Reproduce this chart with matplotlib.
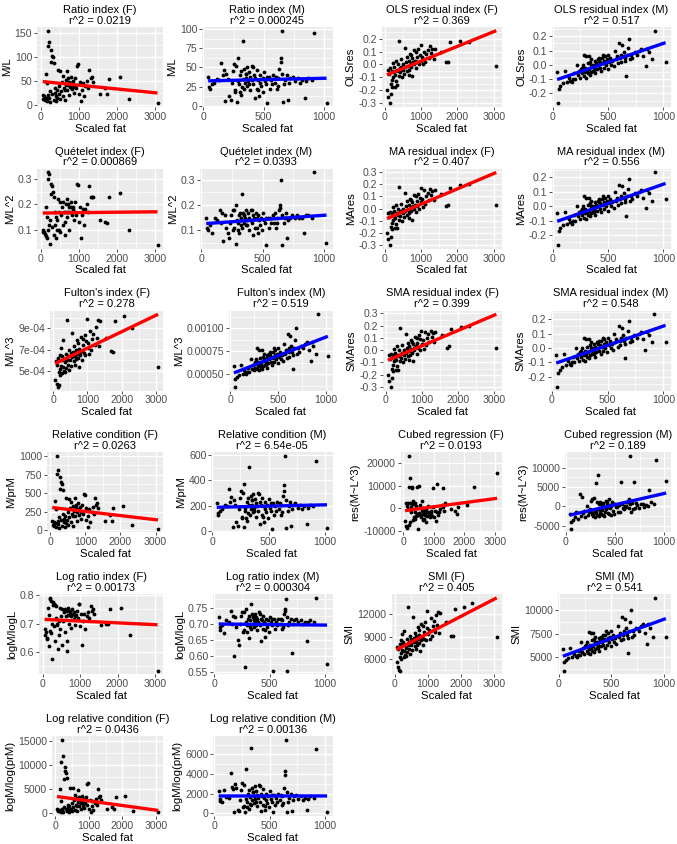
import numpy as np
import matplotlib.pyplot as plt

plt.rcParams['font.family'] = ['Liberation Sans', 'DejaVu Sans']

# Scaled fat, females and males
fat_f = [55, 75, 95, 110, 130, 145, 160, 170, 185, 195,
         205, 215, 230, 245, 255, 270, 285, 295, 310, 325,
         340, 355, 370, 385, 395, 410, 425, 440, 455, 470,
         490, 505, 520, 545, 560, 585, 600, 615, 640, 655,
         670, 690, 705, 720, 740, 755, 770, 790, 805, 830,
         850, 870, 895, 915, 940, 960, 985, 1005, 1030, 1060,
         1085, 1110, 1140, 1175, 1210, 1250, 1280, 1310, 1340, 1370,
         1550, 1690, 1745, 1800, 2080, 2320, 3070, 860, 720, 650]
fat_m = [40, 50, 55, 70, 90, 110, 130, 150, 160, 170,
         180, 190, 200, 215, 225, 235, 245, 255, 265, 270,
         280, 285, 290, 295, 300, 305, 310, 315, 320, 325,
         330, 335, 340, 345, 350, 355, 360, 365, 370, 380,
         385, 390, 400, 405, 410, 420, 425, 430, 440, 445,
         450, 460, 465, 470, 480, 490, 495, 500, 510, 520,
         530, 540, 550, 560, 570, 580, 590, 600, 610, 615,
         620, 630, 640, 650, 655, 660, 670, 680, 690, 700,
         710, 720, 740, 760, 780, 800, 820, 840, 850, 870,
         900, 920, 1020, 260, 350, 375, 415, 455, 525, 640]

# ---- female indices ----
ratio_f = [20, 12, 18, 10, 15, 65, 8, 45, 122, 155,
           20, 14, 132, 5, 28, 90, 115, 102, 22, 100,
           10, 88, 35, 25, 18, 8, 30, 15, 72, 22,
           40, 12, 70, 28, 48, 18, 60, 35, 10, 52,
           42, 70, 30, 55, 48, 20, 38, 58, 45, 32,
           50, 25, 40, 55, 35, 82, 85, 22, 48, 8,
           30, 45, 18, 40, 50, 35, 72, 55, 58, 48,
           22, 35, 22, 53, 58, 12, 3, 38, 42, 30]
ols_f = [-0.20, -0.04, -0.25, -0.07, -0.30, -0.03, -0.15, -0.23, -0.05, -0.12,
         -0.17, 0.01, -0.10, -0.06, -0.02, -0.17, -0.08, 0.03, -0.13, -0.04,
         -0.16, -0.05, 0.00, -0.09, 0.18, -0.03, -0.06, -0.02, 0.04, -0.10,
         -0.04, 0.00, -0.07, 0.13, -0.02, 0.02, -0.05, 0.06, -0.01, 0.03,
         -0.04, 0.08, 0.01, -0.02, 0.05, -0.09, 0.02, 0.00, 0.11, 0.03,
         -0.03, 0.06, 0.02, 0.12, 0.00, 0.07, 0.15, 0.03, 0.06, 0.00,
         0.10, 0.02, 0.08, 0.11, 0.05, 0.14, 0.09, 0.12, 0.04, 0.12,
         0.10, 0.02, 0.02, 0.17, 0.185, 0.175, -0.01, 0.10, 0.07, -0.08]
ma_f = [-0.20, -0.04, -0.25, -0.07, -0.30, -0.03, -0.15, -0.23, -0.04, -0.12,
        -0.17, 0.01, -0.09, -0.06, -0.02, -0.16, -0.08, 0.03, -0.13, -0.04,
        -0.16, -0.05, 0.00, -0.09, 0.18, -0.03, -0.06, -0.02, 0.04, -0.10,
        -0.04, 0.00, -0.07, 0.13, -0.02, 0.02, -0.05, 0.06, -0.01, 0.03,
        -0.04, 0.08, 0.01, -0.02, 0.05, -0.09, 0.02, 0.00, 0.11, 0.03,
        -0.03, 0.06, 0.02, 0.12, 0.00, 0.09, 0.17, 0.05, 0.08, 0.01,
        0.15, 0.04, 0.10, 0.13, 0.07, 0.16, 0.11, 0.14, 0.07, 0.15,
        0.12, 0.02, 0.03, 0.17, 0.19, 0.20, 0.03, 0.10, 0.07, -0.08]
sma_f = [-0.20, -0.04, -0.25, -0.07, -0.30, -0.03, -0.15, -0.23, -0.04, -0.12,
         -0.17, 0.01, -0.09, -0.06, -0.02, -0.16, -0.08, 0.03, -0.13, -0.04,
         -0.16, -0.05, 0.00, -0.09, 0.18, -0.03, -0.06, -0.02, 0.04, -0.10,
         -0.04, 0.00, -0.07, 0.13, -0.02, 0.02, -0.05, 0.06, -0.01, 0.03,
         -0.04, 0.08, 0.01, -0.02, 0.05, -0.09, 0.02, 0.00, 0.11, 0.03,
         -0.03, 0.06, 0.02, 0.12, 0.00, 0.09, 0.16, 0.05, 0.08, 0.01,
         0.15, 0.04, 0.10, 0.13, 0.07, 0.16, 0.11, 0.14, 0.07, 0.15,
         0.12, 0.02, 0.03, 0.17, 0.19, 0.20, 0.02, 0.10, 0.07, -0.08]
quet_f = [0.10, 0.09, 0.09, 0.085, 0.075, 0.19, 0.07, 0.15, 0.30, 0.325,
          0.10, 0.12, 0.32, 0.045, 0.14, 0.24, 0.28, 0.27, 0.11, 0.25,
          0.08, 0.23, 0.17, 0.12, 0.15, 0.07, 0.14, 0.10, 0.22, 0.10,
          0.17, 0.09, 0.21, 0.16, 0.19, 0.12, 0.21, 0.17, 0.08, 0.20,
          0.17, 0.22, 0.15, 0.20, 0.19, 0.10, 0.17, 0.21, 0.19, 0.16,
          0.19, 0.14, 0.17, 0.21, 0.16, 0.28, 0.275, 0.13, 0.19, 0.07,
          0.16, 0.18, 0.12, 0.18, 0.20, 0.17, 0.27, 0.23, 0.23, 0.23,
          0.14, 0.13, 0.125, 0.228, 0.245, 0.10, 0.04, 0.18, 0.17, 0.13]
fulton_f = [0.00042, 0.00059, 0.00038, 0.00056, 0.00035, 0.00062, 0.00049, 0.00037, 0.00065, 0.00052,
            0.00046, 0.00072, 0.00055, 0.00060, 0.00064, 0.00048, 0.00054, 0.00079, 0.00050, 0.00061,
            0.00049, 0.00058, 0.00066, 0.00053, 0.00098, 0.00060, 0.00056, 0.00064, 0.00070, 0.00051,
            0.00060, 0.00067, 0.00055, 0.00086, 0.00063, 0.00068, 0.00059, 0.00073, 0.00064, 0.00070,
            0.00061, 0.00079, 0.00066, 0.00062, 0.00071, 0.00054, 0.00068, 0.00065, 0.00082, 0.00069,
            0.00060, 0.00074, 0.00067, 0.00084, 0.00065, 0.00078, 0.00099, 0.00072, 0.00076, 0.00066,
            0.00088, 0.00070, 0.00080, 0.00085, 0.00074, 0.00091, 0.00081, 0.00098, 0.00073, 0.00097,
            0.00081, 0.00069, 0.00068, 0.00097, 0.00102, 0.00090, 0.00054, 0.00080, 0.00076, 0.00056]
relcond_f = [130, 75, 115, 63, 95, 400, 50, 285, 760, 1000,
             126, 88, 810, 32, 176, 560, 720, 650, 140, 620,
             63, 540, 220, 158, 113, 50, 190, 95, 430, 140,
             252, 76, 420, 176, 300, 113, 380, 220, 63, 330,
             265, 440, 190, 345, 300, 126, 240, 365, 285, 200,
             315, 158, 252, 345, 220, 490, 470, 140, 300, 50,
             190, 285, 113, 250, 315, 220, 430, 345, 365, 300,
             130, 200, 130, 300, 330, 70, 20, 240, 265, 190]
cubed_f = [-5500, 2500, -8000, 1000, -8500, 2500, -500, -7500, 9500, 23000,
           -6000, 2500, 13500, -1500, 500, 2000, 9000, 9500, -5000, 3000,
           -4000, 2000, -1500, -4500, 2500, 1000, -3500, -2500, 9500, -9000,
           -3000, -2000, 9800, 1500, -4000, -3000, 3000, -1000, -5000, 0,
           -4500, -1500, -3000, -2000, -500, -6000, -3500, -1500, 1000, -2500,
           -3000, -4000, -2000, -1000, -3500, 500, 9000, -4000, -1000, -5500,
           10500, -1500, -3000, -1500, -500, 1500, 500, 9000, -1000, 2500,
           -500, -1000, -2500, 500, 1500, 9500, 15500, -2000, -1000, -2500]
logratio_f = [0.68, 0.66, 0.67, 0.65, 0.645, 0.755, 0.62, 0.73, 0.785, 0.79,
              0.675, 0.665, 0.78, 0.575, 0.70, 0.765, 0.775, 0.77, 0.69, 0.765,
              0.64, 0.76, 0.72, 0.695, 0.70, 0.61, 0.71, 0.66, 0.755, 0.68,
              0.725, 0.625, 0.75, 0.71, 0.74, 0.67, 0.75, 0.725, 0.605, 0.745,
              0.73, 0.755, 0.70, 0.745, 0.74, 0.685, 0.725, 0.75, 0.735, 0.715,
              0.74, 0.695, 0.73, 0.745, 0.72, 0.77, 0.77, 0.69, 0.735, 0.625,
              0.71, 0.735, 0.68, 0.725, 0.74, 0.72, 0.76, 0.745, 0.75, 0.735,
              0.695, 0.70, 0.70, 0.75, 0.755, 0.66, 0.535, 0.725, 0.73, 0.64]
smi_f = [5500, 7600, 4900, 7300, 4500, 8000, 6300, 4400, 8500, 6800,
         6000, 9300, 7200, 7800, 8300, 6200, 7000, 9800, 6500, 7900,
         6400, 7500, 8600, 6900, 13000, 7800, 7300, 8300, 9100, 6600,
         7800, 8700, 7200, 11600, 8200, 8800, 7700, 9500, 8300, 9100,
         7900, 10300, 8600, 8100, 9200, 7000, 8800, 8500, 10700, 9000,
         7800, 9600, 8700, 11000, 8500, 10100, 12500, 9400, 9900, 8600,
         11500, 9100, 10400, 11100, 9600, 11900, 10500, 12300, 9500, 12200,
         11000, 9100, 9100, 12700, 13000, 13500, 9000, 10400, 9900, 7300]
lrc_f = [770, 400, 660, 280, 500, 5000, 200, 2500, 10600, 15200,
         770, 460, 11700, 100, 1250, 7000, 9500, 8600, 900, 8200,
         280, 7200, 1700, 1060, 660, 200, 1400, 500, 5200, 900,
         2100, 370, 5100, 1250, 2750, 660, 3800, 1730, 280, 3100,
         2250, 4700, 1400, 3300, 2750, 770, 1950, 3600, 2500, 1500,
         2900, 1060, 2100, 3300, 1730, 6000, 6300, 900, 2750, 200,
         1400, 2500, 660, 2100, 2900, 1730, 4900, 3300, 3600, 2750,
         900, 1300, 900, 3200, 3500, 400, 100, 1950, 2250, 1400]

# ---- male indices ----
ratio_m = [38, 25, 22, 28, 30, 35, 34, 56, 40, 47,
           6, 42, 35, 12, 8, 30, 45, 54, 20, 52,
           5, 62, 32, 28, 18, 40, 14, 45, 25, 35,
           84, 22, 48, 30, 42, 36, 26, 50, 32, 44,
           20, 38, 34, 52, 28, 40, 10, 36, 22, 46,
           34, 12, 40, 30, 26, 36, 18, 44, 32, 28,
           3, 38, 22, 34, 28, 40, 30, 38, 22, 36,
           26, 48, 62, 98, 42, 5, 28, 34, 40, 8,
           30, 36, 38, 32, 36, 30, 34, 10, 32, 36,
           34, 95, 3, 18, 42, 28, 50, 20, 38, 57]
ols_m = [-0.05, -0.27, -0.17, -0.15, -0.13, -0.04, -0.12, -0.09, -0.11, -0.12,
         -0.10, -0.06, -0.10, 0.00, -0.07, -0.04, -0.09, -0.03, -0.06, 0.00,
         -0.08, 0.07, -0.05, -0.02, -0.09, 0.06, -0.04, 0.01, -0.06, -0.03,
         0.06, -0.07, 0.02, -0.05, 0.04, -0.01, -0.04, 0.00, -0.02, 0.03,
         -0.06, 0.01, -0.03, 0.04, 0.00, 0.05, -0.02, 0.02, -0.04, 0.05,
         0.01, -0.02, 0.03, 0.06, 0.00, 0.04, -0.03, 0.07, 0.02, 0.05,
         0.00, 0.03, -0.01, 0.10, 0.04, 0.06, 0.01, 0.15, 0.05, 0.02,
         0.07, 0.14, 0.06, 0.05, 0.03, -0.08, 0.07, 0.12, 0.18, 0.04,
         0.07, 0.05, 0.09, 0.07, 0.10, 0.11, 0.06, -0.01, 0.11, 0.09,
         0.04, 0.24, 0.02, -0.02, 0.00, -0.04, 0.03, 0.07, 0.03, 0.09]
ma_m = [-0.05, -0.27, -0.17, -0.15, -0.13, -0.04, -0.12, -0.09, -0.11, -0.12,
        -0.10, -0.06, -0.10, 0.00, -0.07, -0.04, -0.09, -0.03, -0.06, 0.00,
        -0.08, 0.07, -0.05, -0.02, -0.09, 0.06, -0.04, 0.01, -0.06, -0.03,
        0.06, -0.07, 0.02, -0.05, 0.04, -0.01, -0.04, 0.00, -0.02, 0.03,
        -0.06, 0.01, -0.03, 0.04, 0.00, 0.05, -0.02, 0.02, -0.04, 0.05,
        0.01, -0.02, 0.03, 0.06, 0.00, 0.04, -0.03, 0.07, 0.02, 0.05,
        0.00, 0.03, -0.01, 0.10, 0.04, 0.06, 0.01, 0.15, 0.05, 0.02,
        0.07, 0.14, 0.06, 0.05, 0.03, -0.07, 0.07, 0.12, 0.19, 0.04,
        0.07, 0.05, 0.09, 0.07, 0.10, 0.11, 0.06, -0.01, 0.11, 0.09,
        0.04, 0.235, 0.05, -0.02, 0.00, -0.04, 0.03, 0.07, 0.03, 0.09]
sma_m = [-0.05, -0.27, -0.17, -0.15, -0.13, -0.04, -0.12, -0.09, -0.11, -0.12,
         -0.10, -0.06, -0.10, 0.00, -0.07, -0.04, -0.09, -0.03, -0.06, 0.00,
         -0.08, 0.07, -0.05, -0.02, -0.09, 0.06, -0.04, 0.01, -0.06, -0.03,
         0.06, -0.07, 0.02, -0.05, 0.04, -0.01, -0.04, 0.00, -0.02, 0.03,
         -0.06, 0.01, -0.03, 0.04, 0.00, 0.05, -0.02, 0.02, -0.04, 0.05,
         0.01, -0.02, 0.03, 0.06, 0.00, 0.04, -0.03, 0.07, 0.02, 0.05,
         0.00, 0.03, -0.01, 0.10, 0.04, 0.06, 0.01, 0.15, 0.05, 0.02,
         0.07, 0.14, 0.06, 0.05, 0.03, -0.07, 0.07, 0.12, 0.19, 0.04,
         0.07, 0.05, 0.09, 0.07, 0.10, 0.11, 0.06, -0.01, 0.11, 0.09,
         0.04, 0.235, 0.04, -0.02, 0.00, -0.04, 0.03, 0.07, 0.03, 0.09]
quet_m = [0.15, 0.11, 0.10, 0.12, 0.09, 0.15, 0.14, 0.18, 0.13, 0.17,
          0.055, 0.16, 0.11, 0.09, 0.07, 0.13, 0.16, 0.18, 0.11, 0.18,
          0.045, 0.20, 0.14, 0.13, 0.10, 0.16, 0.09, 0.17, 0.12, 0.15,
          0.245, 0.11, 0.17, 0.13, 0.16, 0.15, 0.12, 0.18, 0.14, 0.17,
          0.10, 0.15, 0.14, 0.18, 0.13, 0.16, 0.08, 0.15, 0.11, 0.17,
          0.15, 0.09, 0.16, 0.14, 0.12, 0.15, 0.10, 0.17, 0.14, 0.13,
          0.04, 0.15, 0.11, 0.15, 0.13, 0.16, 0.13, 0.17, 0.11, 0.15,
          0.13, 0.18, 0.20, 0.30, 0.16, 0.04, 0.13, 0.15, 0.17, 0.07,
          0.14, 0.15, 0.16, 0.15, 0.16, 0.15, 0.15, 0.09, 0.16, 0.16,
          0.15, 0.33, 0.05, 0.10, 0.16, 0.12, 0.18, 0.11, 0.15, 0.19]
fulton_m = [0.00059, 0.00036, 0.00045, 0.00047, 0.00049, 0.00060, 0.00050, 0.00054, 0.00051, 0.00050,
            0.00052, 0.00057, 0.00052, 0.00066, 0.00056, 0.00060, 0.00054, 0.00062, 0.00057, 0.00066,
            0.00055, 0.00078, 0.00059, 0.00063, 0.00054, 0.00076, 0.00060, 0.00068, 0.00057, 0.00062,
            0.00076, 0.00056, 0.00069, 0.00059, 0.00072, 0.00064, 0.00060, 0.00066, 0.00063, 0.00071,
            0.00057, 0.00068, 0.00062, 0.00072, 0.00066, 0.00074, 0.00063, 0.00069, 0.00060, 0.00074,
            0.00068, 0.00063, 0.00071, 0.00076, 0.00066, 0.00072, 0.00062, 0.00078, 0.00069, 0.00074,
            0.00066, 0.00071, 0.00064, 0.00083, 0.00072, 0.00076, 0.00068, 0.00093, 0.00074, 0.00069,
            0.00078, 0.00091, 0.00076, 0.00074, 0.00071, 0.00055, 0.00078, 0.00087, 0.00100, 0.00072,
            0.00078, 0.00074, 0.00081, 0.00078, 0.00083, 0.00085, 0.00076, 0.00064, 0.00085, 0.00081,
            0.00072, 0.00115, 0.00070, 0.00063, 0.00066, 0.00060, 0.00071, 0.00078, 0.00071, 0.00081]
relcond_m = [220, 145, 130, 160, 175, 205, 195, 330, 230, 270,
             35, 245, 205, 70, 45, 175, 260, 315, 115, 300,
             30, 370, 185, 160, 105, 230, 80, 260, 145, 205,
             505, 130, 280, 175, 245, 210, 150, 290, 185, 255,
             115, 220, 195, 300, 160, 230, 58, 210, 130, 265,
             195, 70, 230, 175, 150, 210, 105, 255, 185, 160,
             20, 220, 130, 195, 160, 230, 175, 220, 130, 210,
             150, 280, 360, 590, 245, 25, 160, 195, 230, 45,
             175, 210, 220, 185, 210, 175, 195, 55, 185, 210,
             195, 550, 25, 105, 245, 160, 290, 115, 220, 315]
cubed_m = [-2000, -5800, -4000, -3500, -2700, -1500, -3200, 3300, -2500, 2500,
           -1800, -1200, -2800, 0, -2200, -1500, -800, 1500, -2000, 1800,
           -2500, 2200, -1800, -1000, -2800, 6000, -1500, 1200, -2200, -800,
           8000, -2500, 500, -1800, 1000, -500, -2000, 300, -1000, 800,
           -2400, -200, -1500, 1500, -700, 600, -1800, -300, -2000, 1800,
           -400, -2200, 200, 1200, -1200, 700, -2000, 500, -200, 400,
           -1500, 300, -1500, 6400, 600, -500, -600, 0, 200, -300,
           1000, 1000, 2000, 13000, 500, -1500, 800, -800, 6200, -500,
           800, 300, -500, 500, 500, -200, 300, 0, 4200, 1000,
           600, 12000, 6500, -1200, -900, -2200, 1000, 300, -100, -500]
logratio_m = [0.72, 0.69, 0.68, 0.695, 0.67, 0.71, 0.705, 0.74, 0.70, 0.725,
              0.60, 0.72, 0.69, 0.65, 0.635, 0.70, 0.725, 0.735, 0.68, 0.735,
              0.565, 0.745, 0.705, 0.695, 0.675, 0.715, 0.655, 0.725, 0.69, 0.71,
              0.76, 0.685, 0.73, 0.70, 0.72, 0.71, 0.69, 0.73, 0.705, 0.72,
              0.68, 0.715, 0.705, 0.735, 0.695, 0.715, 0.645, 0.71, 0.685, 0.725,
              0.705, 0.66, 0.715, 0.70, 0.69, 0.71, 0.675, 0.72, 0.705, 0.695,
              0.555, 0.715, 0.685, 0.705, 0.695, 0.715, 0.70, 0.715, 0.685, 0.71,
              0.69, 0.73, 0.745, 0.775, 0.72, 0.555, 0.695, 0.705, 0.715, 0.61,
              0.70, 0.71, 0.715, 0.705, 0.71, 0.70, 0.705, 0.645, 0.705, 0.71,
              0.705, 0.78, 0.575, 0.675, 0.72, 0.695, 0.73, 0.68, 0.715, 0.74]
smi_m = [5900, 3600, 4500, 4700, 4900, 6000, 5000, 5400, 5100, 5000,
         5200, 5700, 5200, 6600, 5600, 6000, 5400, 6200, 5700, 6600,
         5500, 7700, 5900, 6300, 5400, 7600, 6000, 6800, 5700, 6200,
         7600, 5600, 6900, 5900, 7200, 6400, 6000, 6600, 6300, 7100,
         5700, 6800, 6200, 7200, 6600, 7400, 6300, 6900, 6000, 7400,
         6800, 6300, 7100, 7600, 6600, 7200, 6200, 7800, 6900, 7400,
         6600, 7100, 6400, 8300, 7200, 7600, 6800, 9300, 7400, 6900,
         7800, 9100, 7600, 7400, 7100, 5500, 7800, 8700, 10000, 7200,
         7800, 7400, 8100, 7800, 8300, 8500, 7600, 6400, 8500, 8100,
         7200, 11300, 7200, 6300, 6600, 6000, 7100, 7800, 7100, 8100]
lrc_m = [2300, 1500, 1300, 1190, 2400, 1640, 1580, 4100, 2700, 2500,
         130, 3000, 2600, 350, 190, 1310, 2380, 3090, 730, 2930,
         100, 4500, 1440, 1190, 630, 2000, 430, 2380, 1000, 1640,
         6600, 840, 2610, 1310, 2140, 1720, 1070, 2760, 1440, 2300,
         730, 1850, 1580, 2930, 1190, 2000, 270, 1720, 840, 2450,
         1580, 350, 2000, 1310, 1070, 1720, 630, 2300, 1440, 1190,
         100, 1850, 840, 1580, 1190, 2000, 1310, 1850, 840, 1720,
         1070, 2610, 3900, 7500, 2140, 100, 1190, 1580, 2000, 190,
         1310, 1720, 1850, 1440, 1720, 1310, 1580, 350, 1440, 1720,
         1580, 6500, 100, 630, 2140, 1190, 2760, 730, 1850, 4300]

# panel titles, r^2 captions, y labels and y ticks (row by row, F then M)
titles = ["Ratio index (F)", "Ratio index (M)", "OLS residual index (F)", "OLS residual index (M)",
          "Quételet index (F)", "Quételet index (M)", "MA residual index (F)", "MA residual index (M)",
          "Fulton's index (F)", "Fulton's index (M)", "SMA residual index (F)", "SMA residual index (M)",
          "Relative condition (F)", "Relative condition (M)", "Cubed regression (F)", "Cubed regression (M)",
          "Log ratio index (F)", "Log ratio index (M)", "SMI (F)", "SMI (M)",
          "Log relative condition (F)", "Log relative condition (M)"]
r2_text = ["0.0219", "0.000245", "0.369", "0.517",
           "0.000869", "0.0393", "0.407", "0.556",
           "0.278", "0.519", "0.399", "0.548",
           "0.0263", "6.54e-05", "0.0193", "0.189",
           "0.00173", "0.000304", "0.405", "0.541",
           "0.0436", "0.00136"]
ylabels = ["M/L", "M/L", "OLSres", "OLSres",
           "M/L^2", "M/L^2", "MAres", "MAres",
           "M/L^3", "M/L^3", "SMAres", "SMAres",
           "M/prM", "M/prM", "res(M~L^3)", "res(M~L^3)",
           "logM/logL", "logM/logL", "SMI", "SMI",
           "logM/log(prM)", "logM/log(prM)"]
yseries = [ratio_f, ratio_m, ols_f, ols_m,
           quet_f, quet_m, ma_f, ma_m,
           fulton_f, fulton_m, sma_f, sma_m,
           relcond_f, relcond_m, cubed_f, cubed_m,
           logratio_f, logratio_m, smi_f, smi_m,
           lrc_f, lrc_m]
res_ticks = [-0.3, -0.2, -0.1, 0.0, 0.1, 0.2, 0.3]
res_labels = ["-0.3", "-0.2", "-0.1", "0.0", "0.1", "0.2", "0.3"]
yticks = [[0, 50, 100, 150], [0, 25, 50, 75, 100], res_ticks, res_ticks,
          [0.1, 0.2, 0.3], [0.1, 0.2, 0.3], res_ticks, res_ticks,
          [5e-4, 7e-4, 9e-4], [5e-4, 7.5e-4, 1e-3], res_ticks, res_ticks,
          [0, 250, 500, 750, 1000], [0, 200, 400, 600], [-10000, 0, 10000, 20000], [-5000, 0, 5000, 10000],
          [0.6, 0.7, 0.8], [0.55, 0.60, 0.65, 0.70, 0.75], [6000, 9000, 12000], [5000, 7500, 10000],
          [0, 5000, 10000, 15000], [0, 2000, 4000, 6000]]
ytick_labels = [["0", "50", "100", "150"], ["0", "25", "50", "75", "100"], res_labels, res_labels,
                ["0.1", "0.2", "0.3"], ["0.1", "0.2", "0.3"], res_labels, res_labels,
                ["5e-04", "7e-04", "9e-04"], ["0.00050", "0.00075", "0.00100"], res_labels, res_labels,
                ["0", "250", "500", "750", "1000"], ["0", "200", "400", "600"],
                ["-10000", "0", "10000", "20000"], ["-5000", "0", "5000", "10000"],
                ["0.6", "0.7", "0.8"], ["0.55", "0.60", "0.65", "0.70", "0.75"],
                ["6000", "9000", "12000"], ["5000", "7500", "10000"],
                ["0", "5000", "10000", "15000"], ["0", "2000", "4000", "6000"]]
xticks_f = [0, 1000, 2000, 3000]
xticks_m = [0, 500, 1000]

# layout (pixels): space left of each grey panel inside its cell
left_px = [37, 33, 43, 44,
           37, 31, 43, 44,
           50, 60, 44, 43,
           47, 42, 62, 57,
           39, 44, 53, 50,
           52, 44]

W, H = 677, 844
col_w = W / 4
row_h = 141.8
panel_h = 80


def minor_ticks(major, lo, hi):
    step = major[1] - major[0]
    cand = [major[0] - step / 2] + [m + step / 2 for m in major]
    return [v for v in cand if lo <= v <= hi]


fig = plt.figure(figsize=(W / 100, H / 100), dpi=100)

for k, y in enumerate(yseries):
    r, c = divmod(k, 4)
    female = k % 2 == 0
    x = np.array(fat_f if female else fat_m, dtype=float)
    y = np.array(y, dtype=float)
    col = "#FF0000" if female else "#0000FF"

    left = c * col_w + left_px[k]
    right = (c + 1) * col_w - 6
    top = 27 + r * row_h
    ax = fig.add_axes([left / W, 1 - (top + panel_h) / H, (right - left) / W, panel_h / H])

    slope, icpt = np.polyfit(x, y, 1)
    lx = np.array([x.min(), x.max()])
    ly = icpt + slope * lx

    xlo, xhi = x.min(), x.max()
    ylo, yhi = min(y.min(), ly.min()), max(y.max(), ly.max())
    dx, dy = (xhi - xlo) * 0.05, (yhi - ylo) * 0.05
    xlim = (xlo - dx, xhi + dx)
    ylim = (ylo - dy, yhi + dy)

    ax.set_facecolor("#EBEBEB")
    for s in ax.spines.values():
        s.set_visible(False)

    xt = xticks_f if female else xticks_m
    xt = [t for t in xt if xlim[0] <= t <= xlim[1]]
    yt_all = yticks[k]
    yl_all = ytick_labels[k]
    keep = [i for i, t in enumerate(yt_all) if ylim[0] <= t <= ylim[1]]
    yt = [yt_all[i] for i in keep]
    yl = [yl_all[i] for i in keep]

    for v in minor_ticks(xticks_f if female else xticks_m, *xlim):
        ax.axvline(v, color="white", lw=0.5, zorder=0)
    for v in minor_ticks(yt_all, *ylim):
        ax.axhline(v, color="white", lw=0.5, zorder=0)
    for v in xt:
        ax.axvline(v, color="white", lw=1.0, zorder=0)
    for v in yt:
        ax.axhline(v, color="white", lw=1.0, zorder=0)

    ax.scatter(x, y, s=7.5, color="black", linewidths=0, zorder=2)
    ax.plot(lx, ly, color=col, lw=2.4, zorder=3, solid_capstyle="butt")

    ax.set_xlim(*xlim)
    ax.set_ylim(*ylim)
    ax.set_xticks(xt)
    ax.set_xticklabels([str(t) for t in xt])
    ax.set_yticks(yt)
    ax.set_yticklabels(yl)
    ax.tick_params(axis="both", length=2, width=0.6, color="#333333",
                   labelsize=7.6, labelcolor="#4D4D4D", pad=1.5)

    ax.set_title(f"{titles[k]}\nr^2 = {r2_text[k]}", fontsize=8, pad=2.5, linespacing=1.1)
    ax.set_xlabel("Scaled fat", fontsize=8.2, labelpad=1.2)
    ax.set_ylabel(ylabels[k], fontsize=8.2, labelpad=2)

fig.savefig("out.png", dpi=100)
